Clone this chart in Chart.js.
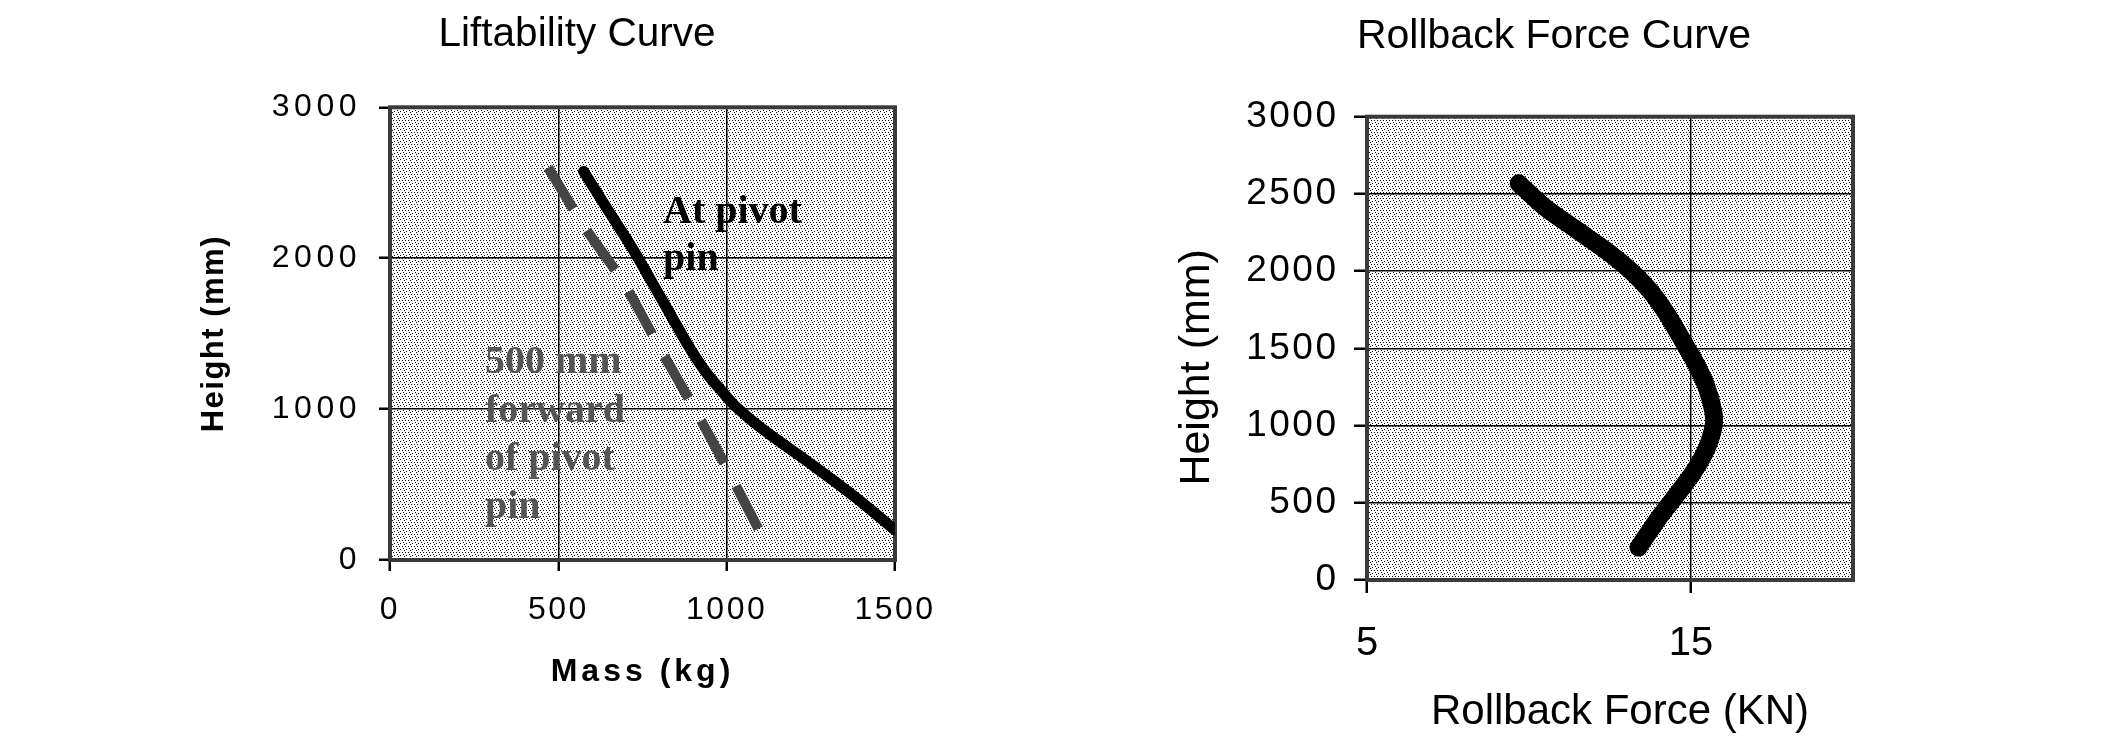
<!DOCTYPE html>
<html>
<head>
<meta charset="utf-8">
<script src="https://cdn.jsdelivr.net/npm/chart.js@4/dist/chart.umd.min.js"></script>
<style>
html,body{margin:0;padding:0;background:#fff;width:2104px;height:751px;overflow:hidden;}
canvas{position:absolute;top:0;}
#left{left:0px;}
#right{left:1050px;}
</style>
</head>
<body>
<canvas id="left" width="1000" height="751"></canvas>
<canvas id="right" width="1054" height="751"></canvas>
<script>
// ---------------- DATA ----------------
// Liftability curve
const liftMassTicks = [0, 500, 1000, 1500];
const liftHeightTicks = [0, 1000, 2000, 3000];
const pivotMass   = [575, 650, 723, 797, 850, 893, 940, 985, 1030, 1105, 1242, 1380, 1500];
const pivotHeight = [2575, 2310, 2054, 1767, 1560, 1395, 1240, 1120, 1010, 870, 650, 420, 199];
const forwardMass   = [470, 580, 690, 800, 910, 1000, 1098];
const forwardHeight = [2600, 2200, 1850, 1410, 980, 610, 190];
const pivotNote = ['At pivot', 'pin'];
const forwardNote = ['500 mm', 'forward', 'of pivot', 'pin'];

// Rollback force curve
const rollForceTicks = [5, 15];
const rollHeightTicks = [0, 500, 1000, 1500, 2000, 2500, 3000];
const rollForce  = [9.68, 10.45, 11.45, 12.4, 13.15, 13.75, 14.2, 14.55, 14.88, 15.2, 15.48, 15.68, 15.7, 15.48, 15.08, 14.55, 14.0, 13.38];
const rollHeight = [2569, 2420, 2270, 2130, 2000, 1870, 1740, 1620, 1500, 1380, 1250, 1100, 1000, 850, 700, 550, 400, 210];

// ---------------- HELPERS ----------------
const SANS = '"Liberation Sans", Arial, Helvetica, sans-serif';
const SERIF = '"Liberation Serif", "Times New Roman", serif';

function pts(xs, ys) { return xs.map((x, i) => ({x: x, y: ys[i]})); }
function fixedTicks(values) { return scale => { scale.ticks = values.map(v => ({value: v})); }; }

function dotPattern(ctx) {
  const c = document.createElement('canvas');
  c.width = 6; c.height = 6;
  const g = c.getContext('2d');
  g.fillStyle = '#fff'; g.fillRect(0, 0, 6, 6);
  g.fillStyle = '#000';
  g.fillRect(0, 0, 1, 1);
  g.fillRect(3, 0, 1, 1);
  g.fillRect(1, 2, 1, 1);
  g.fillRect(4, 3, 1, 1);
  g.fillRect(2, 4, 1, 1);
  return ctx.createPattern(c, 'repeat');
}

const framePlugin = {
  id: 'frame',
  beforeDraw(chart) {
    const {ctx, chartArea: a} = chart;
    ctx.save();
    ctx.fillStyle = dotPattern(ctx);
    ctx.fillRect(a.left, a.top, a.right - a.left, a.bottom - a.top);
    ctx.restore();
  },
  beforeDatasetsDraw(chart, args, o) {
    const {ctx, chartArea: a} = chart;
    ctx.save();
    ctx.strokeStyle = o.color;
    ctx.lineWidth = o.width;
    ctx.strokeRect(a.left, a.top, a.right - a.left, a.bottom - a.top);
    ctx.restore();
  }
};

const titlePosPlugin = {
  id: 'titlePos',
  afterLayout(chart, args, o) {
    const t = chart.titleBlock;
    if (!t || o.centerX == null) return;
    const w = t.right - t.left;
    t.left = o.centerX - w / 2;
    t.right = o.centerX + w / 2;
  }
};

const axisTextPlugin = {
  id: 'axisText',
  beforeDraw(chart, args, opts) {
    for (const id of Object.keys(chart.scales)) {
      const s = chart.scales[id];
      const cfg = opts[id];
      if (!cfg || s._axisTextPatched) continue;
      const origLabels = s.drawLabels;
      const origTitle = s.drawTitle;
      s.drawLabels = function (area) {
        const c = this.ctx;
        const prev = c.letterSpacing;
        if (cfg.tickSpacing) c.letterSpacing = cfg.tickSpacing + 'px';
        origLabels.call(this, area);
        c.letterSpacing = prev;
      };
      s.drawTitle = function (area) {
        const c = this.ctx;
        c.save();
        if (cfg.titleSpacing) c.letterSpacing = cfg.titleSpacing + 'px';
        if (cfg.titleShift) c.translate(cfg.titleShift[0], cfg.titleShift[1]);
        origTitle.call(this, area);
        c.restore();
      };
      s._axisTextPatched = true;
    }
  }
};

const notesPlugin = {
  id: 'notes',
  afterDatasetsDraw(chart, args, o) {
    if (!o.items) return;
    const {ctx} = chart;
    const xs = chart.scales.x, ys = chart.scales.y;
    for (const n of o.items) {
      ctx.save();
      ctx.font = o.font;
      ctx.fillStyle = n.color;
      ctx.textAlign = 'left';
      ctx.textBaseline = 'alphabetic';
      const px = xs.getPixelForValue(n.x);
      const py = ys.getPixelForValue(n.y);
      n.lines.forEach((t, i) => ctx.fillText(t, px, py + i * n.gap));
      ctx.restore();
    }
  }
};

// ---------------- LEFT CHART ----------------
new Chart(document.getElementById('left'), {
  type: 'line',
  data: {
    datasets: [
      {
        label: 'At pivot pin',
        data: pts(pivotMass, pivotHeight),
        borderColor: '#000',
        borderWidth: 11,
        borderCapStyle: 'round',
        borderJoinStyle: 'round',
        pointRadius: 0,
        tension: 0.35,
        fill: false
      },
      {
        label: '500 mm forward of pivot pin',
        data: pts(forwardMass, forwardHeight),
        borderColor: '#454545',
        borderWidth: 10,
        borderDash: [48, 26],
        borderCapStyle: 'butt',
        pointRadius: 0,
        tension: 0.3,
        fill: false
      }
    ]
  },
  options: {
    responsive: false,
    animation: false,
    devicePixelRatio: 1,
    layout: {padding: {left: 0, right: 105, top: 0, bottom: 0}},
    plugins: {
      legend: {display: false},
      tooltip: {enabled: false},
      title: {
        display: true,
        text: 'Liftability Curve',
        color: '#000',
        font: {family: SANS, size: 40.5, weight: 'normal', lineHeight: 1.2},
        padding: {top: 10.1, bottom: 48.6}
      },
      titlePos: {centerX: 577},
      axisText: {
        x: {tickSpacing: 2.5, titleSpacing: 4},
        y: {tickSpacing: 4.5, titleSpacing: 1.5}
      },
      frame: {color: '#3a3a3a', width: 4},
      notes: {
        font: 'bold 40px ' + SERIF,
        items: [
          {lines: pivotNote, x: 811, y: 2235, gap: 47.5, color: '#000'},
          {lines: forwardNote, x: 282, y: 1237, gap: 48.3, color: '#555555'}
        ]
      }
    },
    scales: {
      x: {
        type: 'linear',
        min: 0, max: 1500,
        afterBuildTicks: fixedTicks(liftMassTicks),
        afterFit: s => { s.height = 191; },
        border: {display: false},
        grid: {color: '#000', lineWidth: 1.5, tickLength: 11, tickWidth: 2.5, tickColor: '#000'},
        ticks: {color: '#000', font: {family: SANS, size: 32, lineHeight: 1.2}, padding: 19.5,
                maxRotation: 0, autoSkip: false, callback: v => String(v)},
        title: {display: true, text: 'Mass (kg)', color: '#000',
                font: {family: SANS, size: 32, weight: 'bold', lineHeight: 1.2},
                padding: {top: 0, bottom: 59.5}}
      },
      y: {
        type: 'linear',
        min: 0, max: 3000,
        afterBuildTicks: fixedTicks(liftHeightTicks),
        afterFit: s => { s.width = 390; },
        border: {display: false},
        grid: {color: '#000', lineWidth: 1.5, tickLength: 11, tickWidth: 2.5, tickColor: '#000'},
        ticks: {color: '#000', font: {family: SANS, size: 32, lineHeight: 1.2}, padding: 18,
                autoSkip: false, callback: v => String(v)},
        title: {display: true, text: 'Height (mm)', color: '#000',
                font: {family: SANS, size: 31, weight: 'bold', lineHeight: 1.2},
                padding: {top: 195.4, bottom: 0}}
      }
    }
  },
  plugins: [framePlugin, titlePosPlugin, axisTextPlugin, notesPlugin]
});

// ---------------- RIGHT CHART ----------------
new Chart(document.getElementById('right'), {
  type: 'line',
  data: {
    datasets: [
      {
        label: 'Rollback Force',
        data: pts(rollForce, rollHeight),
        borderColor: '#000',
        borderWidth: 18,
        borderCapStyle: 'round',
        borderJoinStyle: 'round',
        pointRadius: 0,
        tension: 0.3,
        fill: false
      }
    ]
  },
  options: {
    responsive: false,
    animation: false,
    devicePixelRatio: 1,
    layout: {padding: {left: 0, right: 251, top: 0, bottom: 0}},
    plugins: {
      legend: {display: false},
      tooltip: {enabled: false},
      title: {
        display: true,
        text: 'Rollback Force Curve',
        color: '#000',
        font: {family: SANS, size: 41, weight: 'normal', lineHeight: 1.2},
        padding: {top: 12.4, bottom: 55.1}
      },
      titlePos: {centerX: 504},
      axisText: {
        x: {titleShift: [10, 0]},
        y: {tickSpacing: 2.5, titleShift: [0, 19]}
      },
      frame: {color: '#3a3a3a', width: 4}
    },
    scales: {
      x: {
        type: 'linear',
        min: 5, max: 20,
        afterBuildTicks: fixedTicks(rollForceTicks),
        afterFit: s => { s.height = 171; },
        border: {display: false},
        grid: {color: '#000', lineWidth: 1.5, tickLength: 13, tickWidth: 2.5, tickColor: '#000'},
        ticks: {color: '#000', font: {family: SANS, size: 40, lineHeight: 1.2}, padding: 27.4,
                maxRotation: 0, autoSkip: false, callback: v => String(v)},
        title: {display: true, text: 'Rollback Force (KN)', color: '#000',
                font: {family: SANS, size: 42, weight: 'normal', lineHeight: 1.2},
                padding: {top: 0, bottom: 12.9}}
      },
      y: {
        type: 'linear',
        min: 0, max: 3000,
        afterBuildTicks: fixedTicks(rollHeightTicks),
        afterFit: s => { s.width = 317; },
        border: {display: false},
        grid: {color: '#000', lineWidth: 1.5, tickLength: 13, tickWidth: 2.5, tickColor: '#000'},
        ticks: {color: '#000', font: {family: SANS, size: 37, lineHeight: 1.2}, padding: 15.5,
                autoSkip: false, callback: v => String(v)},
        title: {display: true, text: 'Height (mm)', color: '#000',
                font: {family: SANS, size: 43, weight: 'normal', lineHeight: 1.2},
                padding: {top: 121.2, bottom: 0}}
      }
    }
  },
  plugins: [framePlugin, titlePosPlugin, axisTextPlugin]
});
</script>
</body>
</html>
